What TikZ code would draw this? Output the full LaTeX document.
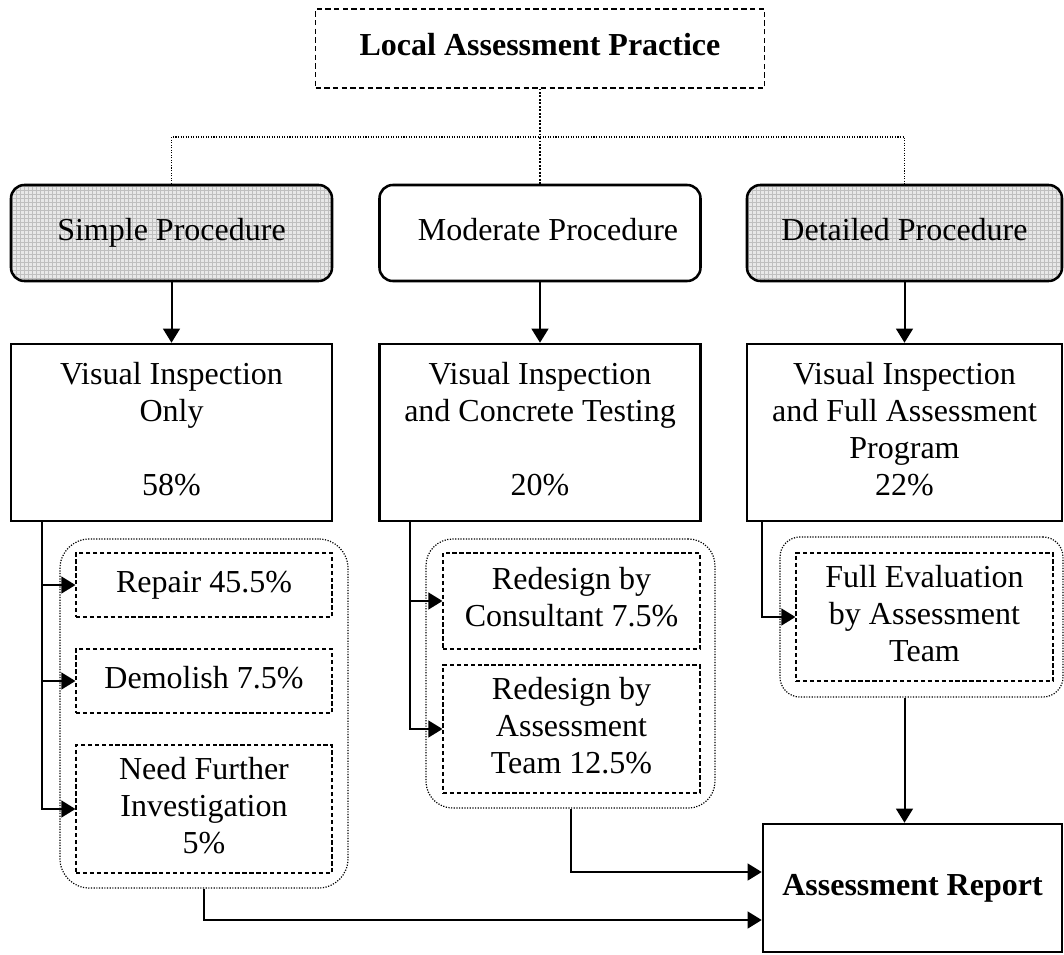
\documentclass[tikz,border=0pt]{standalone}
\usepackage{fontspec}
\setmainfont{Liberation Serif}
\usetikzlibrary{arrows.meta,patterns,calc}

\begin{document}
\begin{tikzpicture}[x=0.75pt,y=-0.75pt,
  font=\fontsize{24}{27.75}\selectfont,
  every node/.style={align=center, inner sep=0pt},
  sz/.style 2 args={minimum width=#1, minimum height=#2},
  mainbox/.style={draw, line width=1.9pt},
  procbox/.style={draw, line width=1.9pt, rounded corners=10pt},
  greyfill/.style={preaction={fill=gray!18}, pattern=grid, pattern color=gray!50},
  optbox/.style={draw, line width=0.8pt, dash pattern=on 3.2pt off 2pt},
  grp/.style={draw, line width=0.9pt, dash pattern=on 0.9pt off 1.1pt, rounded corners=#1},
  arr/.style={line width=1.5pt, -{Triangle[length=10.5pt,width=12.5pt]}},
  tielink/.style={line width=0.8pt, dash pattern=on 0.8pt off 1.1pt},
  boldtext/.style={font=\fontsize{24}{27.75}\selectfont\bfseries}
]
\useasboundingbox (0,0) rectangle (1064,954);

% heading
\node[draw, line width=0.8pt, dash pattern=on 4pt off 2.5pt, sz={336.75pt}{59.25pt}, boldtext] (title) at (540,48.5) {\strut Local Assessment Practice};

% the three procedures
\node[procbox, greyfill, sz={240.75pt}{72pt}] (procS) at (171.5,233) {\strut Simple Procedure};
\node[procbox, sz={240.75pt}{72pt}] (procM) at (540,233) {\strut\hspace*{12pt}Moderate Procedure};
\node[procbox, greyfill, sz={236.25pt}{72pt}] (procD) at (904.5,233) {\strut Detailed Procedure};

% inspection level of each procedure
\node[mainbox, sz={240.75pt}{132.75pt}] (visS) at (171.5,432.5) {\strut Visual Inspection\\Only\\\strut\\58\%\strut};
\node[mainbox, sz={240.75pt}{132.75pt}] (visM) at (540,432.5) {\strut Visual Inspection\\and Concrete Testing\\\strut\\20\%\strut};
\node[mainbox, sz={236.25pt}{132.75pt}] (visD) at (904.5,432.5) {\strut Visual Inspection\\and Full Assessment\\Program\\22\%\strut};

% dotted groups of outcomes
\node[grp=22pt, sz={216pt}{261.75pt}] (grpS) at (204,713.5) {};
\node[grp=20pt, sz={216.75pt}{201.75pt}] (grpM) at (570.5,673.5) {};
\node[grp=15pt, sz={212.25pt}{120pt}] (grpD) at (921.5,617) {};

% outcomes
\node[optbox, sz={192pt}{48pt}] (repair) at (204,585) {\strut Repair 45.5\%};
\node[optbox, sz={192pt}{48pt}] (demolish) at (204,681) {\strut Demolish 7.5\%};
\node[optbox, sz={192pt}{96pt}] (further) at (204,809) {\strut Need Further\\Investigation\\5\%\strut};
\node[optbox, sz={192.75pt}{72pt}] (consult) at (571.5,601) {\strut Redesign by\\Consultant 7.5\%\strut};
\node[optbox, sz={192.75pt}{96pt}] (team) at (571.5,729) {\strut Redesign by\\Assessment\\Team 12.5\%\strut};
\node[optbox, sz={192.75pt}{96pt}] (fulleval) at (924.5,617) {\strut Full Evaluation\\by Assessment\\Team\strut};

% final report
\node[mainbox, sz={224.25pt}{96pt}, boldtext] (report) at (912.5,888) {\strut Assessment Report};

% links from the heading
\coordinate (hub) at (540,137);
\draw[tielink] (procS.north) |- (hub) -| (procD.north);
\draw[line width=1.4pt, dash pattern=on 1.4pt off 1.2pt] (title.south) -- (procM.north);

% procedure to inspection
\draw[arr] (procS) -- (visS);
\draw[arr] (procM) -- (visM);
\draw[arr] (procD) -- (visD);

% inspection to outcomes
\coordinate (stemS) at ($(visS.south west)+(32,0)$);
\coordinate (stemM) at ($(visM.south west)+(32,0)$);
\coordinate (stemD) at ($(visD.south west)+(16,0)$);
\draw[arr] (stemS) |- (repair.west);
\draw[arr] (stemS) |- (demolish.west);
\draw[arr] (stemS) |- (further.west);
\draw[arr] (stemM) |- (consult.west);
\draw[arr] (stemM) |- (team.west);
\draw[arr] (stemD) |- (fulleval.west);

% outcomes to report
\draw[arr] (grpS.south) |- ($(report.west)+(0,32)$);
\draw[arr] (grpM.south) |- ($(report.west)+(0,-16)$);
\draw[arr] (grpD.south -| visD.south) -- (report.north -| visD.south);
\end{tikzpicture}
\end{document}
